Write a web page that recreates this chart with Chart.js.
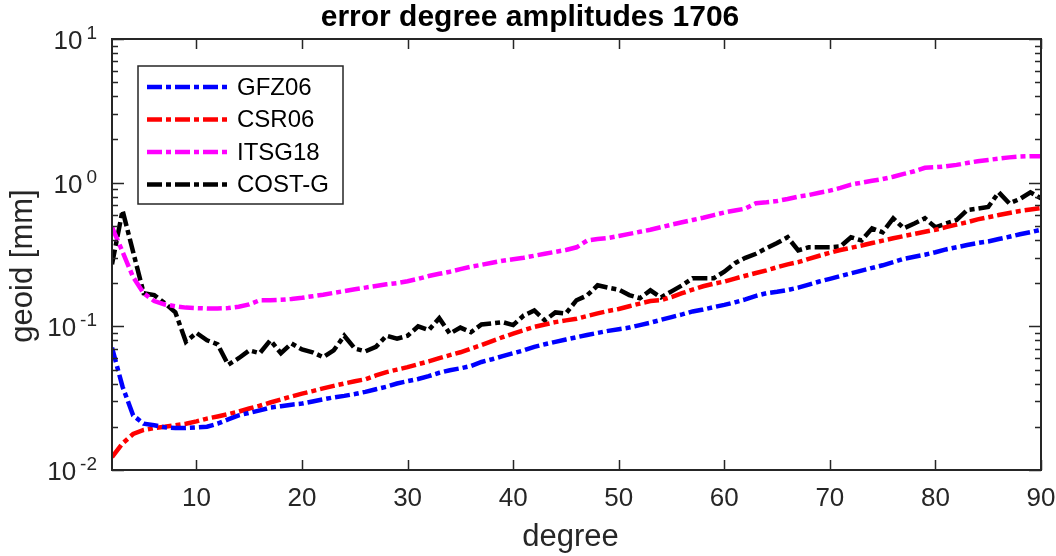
<!DOCTYPE html>
<html>
<head>
<meta charset="utf-8">
<script src="https://cdn.jsdelivr.net/npm/chart.js@4.4.1/dist/chart.umd.min.js"></script>
<style>
  body { margin: 0; background: #fff; }
  #wrap { width: 1056px; height: 556px; position: relative; }
</style>
</head>
<body>
<div id="wrap"><canvas id="canvas"></canvas></div>
<script>
// spherical harmonic degree 2..90
var degrees = [2,3,4,5,6,7,8,9,10,11,12,13,14,15,16,17,18,19,20,21,22,23,24,25,26,27,28,29,30,
  31,32,33,34,35,36,37,38,39,40,41,42,43,44,45,46,47,48,49,50,51,52,53,54,55,56,57,58,59,60,
  61,62,63,64,65,66,67,68,69,70,71,72,73,74,75,76,77,78,79,80,81,82,83,84,85,86,87,88,89,90];

var gfz06 = [0.071,0.038,0.024,0.021,0.0205,0.0198,0.0196,0.0196,0.0198,0.020,0.021,0.0225,0.024,0.025,
  0.026,0.0272,0.0278,0.0285,0.029,0.030,0.031,0.032,0.0328,0.0338,0.035,0.0365,0.038,0.040,0.0415,
  0.043,0.045,0.0475,0.0495,0.051,0.053,0.0565,0.059,0.062,0.065,0.068,0.072,0.075,0.078,0.081,0.084,
  0.087,0.090,0.093,0.0955,0.098,0.102,0.106,0.111,0.116,0.121,0.127,0.131,0.136,0.141,0.147,0.154,
  0.163,0.170,0.174,0.179,0.186,0.195,0.205,0.214,0.224,0.234,0.244,0.255,0.266,0.280,0.295,0.305,
  0.315,0.328,0.343,0.355,0.368,0.380,0.390,0.405,0.420,0.437,0.452,0.470];

var csr06 = [0.0123,0.0153,0.0178,0.019,0.0196,0.020,0.0205,0.021,0.0218,0.0228,0.0236,0.0245,0.0255,
  0.0268,0.028,0.0295,0.031,0.0325,0.034,0.0354,0.037,0.0385,0.040,0.0415,0.0428,0.0455,0.048,0.050,
  0.052,0.0545,0.057,0.060,0.063,0.066,0.070,0.074,0.079,0.084,0.089,0.094,0.099,0.103,0.107,0.110,
  0.113,0.118,0.123,0.128,0.132,0.138,0.144,0.150,0.152,0.160,0.170,0.180,0.190,0.198,0.205,0.215,
  0.225,0.235,0.245,0.258,0.270,0.280,0.295,0.310,0.325,0.340,0.352,0.365,0.380,0.395,0.410,0.425,
  0.440,0.455,0.470,0.490,0.510,0.530,0.555,0.575,0.595,0.615,0.635,0.650,0.665];

var itsg18 = [0.49,0.33,0.22,0.17,0.15,0.142,0.138,0.135,0.134,0.133,0.133,0.134,0.137,0.142,0.152,
  0.152,0.153,0.155,0.158,0.162,0.166,0.171,0.176,0.181,0.186,0.191,0.196,0.200,0.206,0.214,0.224,
  0.232,0.240,0.250,0.260,0.268,0.277,0.286,0.293,0.300,0.310,0.320,0.330,0.340,0.355,0.395,0.405,
  0.412,0.425,0.440,0.455,0.470,0.490,0.510,0.530,0.550,0.570,0.595,0.620,0.640,0.660,0.720,0.730,
  0.745,0.770,0.800,0.820,0.850,0.880,0.920,0.970,1.00,1.03,1.06,1.10,1.15,1.20,1.27,1.28,1.30,1.33,
  1.37,1.41,1.44,1.47,1.50,1.52,1.53,1.53];

var costg = [0.27,0.64,0.33,0.17,0.165,0.145,0.125,0.078,0.090,0.080,0.075,0.054,0.060,0.068,0.065,
  0.080,0.065,0.076,0.069,0.066,0.061,0.068,0.086,0.070,0.067,0.072,0.086,0.082,0.086,0.100,0.094,
  0.114,0.089,0.098,0.091,0.103,0.105,0.107,0.102,0.119,0.129,0.110,0.125,0.123,0.152,0.164,0.193,
  0.186,0.180,0.165,0.157,0.178,0.159,0.175,0.193,0.216,0.216,0.216,0.240,0.275,0.300,0.320,0.350,
  0.380,0.417,0.338,0.355,0.355,0.355,0.360,0.417,0.396,0.481,0.451,0.565,0.481,0.520,0.565,0.489,
  0.520,0.549,0.645,0.660,0.677,0.857,0.718,0.770,0.857,0.777];

var seriesNames = ["GFZ06", "CSR06", "ITSG18", "COST-G"];
var seriesColors = ["#0000ff", "#ff0000", "#ff00ff", "#000000"];

var xTicks = [10, 20, 30, 40, 50, 60, 70, 80, 90];
var yDecades = [-2, -1, 0, 1];

var axisColor = "#262626";
var dashDot = [15, 4, 5, 4];
var fontFam = "'Liberation Sans', Arial, sans-serif";

function points(vals) {
  return vals.map(function(v, i) { return { x: degrees[i], y: v }; });
}

var allSeries = [gfz06, csr06, itsg18, costg];
var datasets = allSeries.map(function(vals, i) {
  return {
    label: seriesNames[i],
    data: points(vals),
    borderColor: seriesColors[i],
    borderWidth: 4.5,
    borderDash: dashDot,
    borderCapStyle: "butt",
    pointRadius: 0,
    tension: 0,
    fill: false
  };
});

// matlab style box, inward ticks, labels, titles and legend
var matlabAxes = {
  id: "matlabAxes",
  afterDatasetsDraw: function(chart) {
    var ctx = chart.ctx;
    var a = chart.chartArea;
    var xs = chart.scales.x, ys = chart.scales.y;
    ctx.save();
    ctx.strokeStyle = axisColor;
    ctx.lineWidth = 1.5;

    // x ticks top & bottom
    ctx.beginPath();
    xTicks.forEach(function(t) {
      var px = Math.round(xs.getPixelForValue(t)) + 0.5;
      ctx.moveTo(px, a.bottom); ctx.lineTo(px, a.bottom - 10);
      ctx.moveTo(px, a.top); ctx.lineTo(px, a.top + 10);
    });
    // y ticks left & right, major + minor
    yDecades.forEach(function(d) {
      for (var m = 1; m <= 9; m++) {
        var v = m * Math.pow(10, d);
        if (v > 10.0001) break;
        var py = Math.round(ys.getPixelForValue(v)) + 0.5;
        var len = m === 1 ? 12 : 6;
        ctx.moveTo(a.left, py); ctx.lineTo(a.left + len, py);
        ctx.moveTo(a.right, py); ctx.lineTo(a.right - len, py);
      }
    });
    ctx.stroke();

    // box
    ctx.lineWidth = 2;
    ctx.strokeRect(a.left, a.top, a.right - a.left, a.bottom - a.top);

    // x tick labels
    ctx.fillStyle = axisColor;
    ctx.font = "26px " + fontFam;
    ctx.textAlign = "center";
    ctx.textBaseline = "middle";
    xTicks.forEach(function(t) {
      ctx.fillText(String(t), xs.getPixelForValue(t), 499);
    });

    // y tick labels 10^n
    yDecades.forEach(function(d) {
      var py = ys.getPixelForValue(Math.pow(10, d));
      ctx.font = "19px " + fontFam;
      ctx.textAlign = "right";
      ctx.textBaseline = "alphabetic";
      var ex = String(d);
      ctx.fillText(ex, 97, py);
      var ew = ctx.measureText(ex).width;
      ctx.font = "26px " + fontFam;
      ctx.fillText("10", 97 - ew - 4, py + 10);
    });

    // axis titles
    ctx.font = "31px " + fontFam;
    ctx.textAlign = "center";
    ctx.textBaseline = "middle";
    ctx.fillText("degree", (a.left + a.right) / 2 - 6, 537);
    ctx.save();
    ctx.translate(23, 266);
    ctx.rotate(-Math.PI / 2);
    ctx.fillText("geoid [mm]", 0, 0);
    ctx.restore();

    // title
    ctx.fillStyle = "#000";
    ctx.font = "bold 30px " + fontFam;
    ctx.fillText("error degree amplitudes 1706", 530, 18);

    // legend
    var lx = a.left + 26, ly = a.top + 27, lw = 205, lh = 138;
    ctx.fillStyle = "#fff";
    ctx.fillRect(lx, ly, lw, lh);
    ctx.strokeStyle = axisColor;
    ctx.lineWidth = 1.5;
    ctx.strokeRect(lx, ly, lw, lh);
    chart.data.datasets.forEach(function(ds, i) {
      var y = ly + 21 + i * 32.5;
      ctx.beginPath();
      ctx.setLineDash(ds.borderDash);
      ctx.strokeStyle = ds.borderColor;
      ctx.lineWidth = ds.borderWidth;
      ctx.moveTo(lx + 9, y); ctx.lineTo(lx + 92, y);
      ctx.stroke();
      ctx.setLineDash([]);
      ctx.fillStyle = "#000";
      ctx.font = "24px " + fontFam;
      ctx.textAlign = "left";
      ctx.textBaseline = "middle";
      ctx.fillText(ds.label, lx + 99, y + 1);
    });
    ctx.restore();
  }
};

new Chart(document.getElementById("canvas"), {
  type: "line",
  data: { datasets: datasets },
  options: {
    responsive: true,
    maintainAspectRatio: false,
    animation: false,
    layout: { padding: { left: 112, top: 39, right: 15, bottom: 86 } },
    scales: {
      x: { type: "linear", min: 2, max: 90, display: false },
      y: { type: "logarithmic", min: 0.01, max: 10, display: false }
    },
    plugins: {
      legend: { display: false },
      title: { display: false },
      tooltip: { enabled: false }
    }
  },
  plugins: [matlabAxes]
});
</script>
</body>
</html>
